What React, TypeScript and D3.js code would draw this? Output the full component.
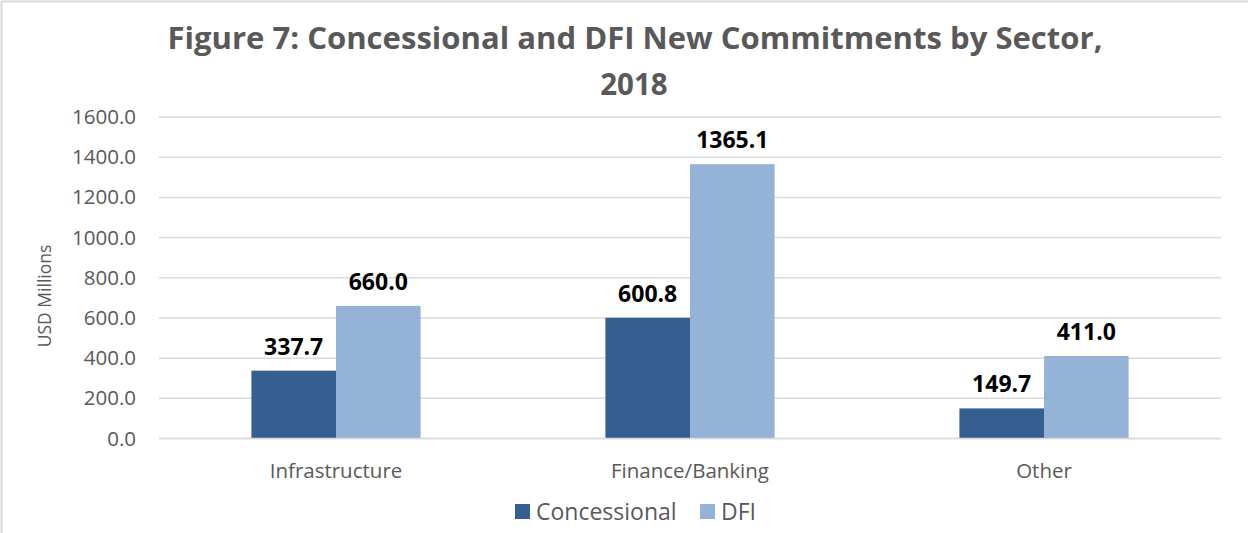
import React from "react";
import * as d3 from "d3";

const categories = ["Infrastructure", "Finance/Banking", "Other"];
const seriesNames = ["Concessional", "DFI"];
const concessional = [337.7, 600.8, 149.7];
const dfi = [660.0, 1365.1, 411.0];
const yTicks = [0, 200, 400, 600, 800, 1000, 1200, 1400, 1600];
const colors = ["#365F91", "#95B3D7"];

const W = 1248;
const H = 533;
const FONT = "'Open Sans', 'DejaVu Sans', sans-serif";

export default function App() {
  const left = 159, right = 1221, top = 117, bottom = 438.5;
  const x = d3.scaleBand<string>().domain(categories).range([left, right]).paddingInner(0).paddingOuter(0);
  const bw = 84.6;
  const y = d3.scaleLinear().domain([0, 1600]).range([bottom, top]);
  const series = [concessional, dfi];

  return (
    <div style={{ position: "absolute", left: 0, top: 0 }}>
      <svg width={W} height={H} style={{ display: "block", background: "#fff" }}>
        <rect x={1.5} y={1.5} width={W + 20} height={H + 20} fill="#fff" stroke="#d9d9d9" strokeWidth={2} />
        <text x={635} y={49} textAnchor="middle" fontFamily={FONT} fontWeight={700} fontSize={29.5} fill="#595959"
          textLength={935} lengthAdjust="spacingAndGlyphs">
          Figure 7: Concessional and DFI New Commitments by Sector,
        </text>
        <text x={634} y={95} textAnchor="middle" fontFamily={FONT} fontWeight={700} fontSize={29.5} fill="#595959">
          2018
        </text>
        {yTicks.map((t) => (
          <g key={t}>
            <line x1={left} x2={right} y1={y(t)} y2={y(t)} stroke="#d9d9d9" strokeWidth={1.5} />
            <text x={136} y={y(t) + 7} textAnchor="end" fontFamily={FONT} fontSize={20.5} fill="#595959">
              {t.toFixed(1)}
            </text>
          </g>
        ))}
        <text transform={`translate(51,296) rotate(-90)`} textAnchor="middle" fontFamily={FONT} fontSize={17.5} fill="#595959">
          USD Millions
        </text>
        {categories.map((c, i) => {
          const cx = (x(c) as number) + x.bandwidth() / 2;
          return (
            <g key={c}>
              {series.map((s, si) => {
                const bx = cx - bw + si * bw;
                return (
                  <g key={si}>
                    <rect x={bx} y={y(s[i])} width={bw} height={bottom - y(s[i])} fill={colors[si]} />
                    <text x={bx + bw / 2} y={y(s[i]) - 16} textAnchor="middle" fontFamily={FONT} fontWeight={700}
                      fontSize={23} fill="#000">
                      {s[i].toFixed(1)}
                    </text>
                  </g>
                );
              })}
              <text x={cx} y={478} textAnchor="middle" fontFamily={FONT} fontSize={20.5} fill="#595959">
                {c}
              </text>
            </g>
          );
        })}
        <line x1={left} x2={right} y1={bottom} y2={bottom} stroke="#d9d9d9" strokeWidth={1.5} />
        {seriesNames.map((n, i) => {
          const lx = [515, 700][i];
          return (
            <g key={n}>
              <rect x={lx} y={504} width={15} height={15} fill={colors[i]} />
              <text x={lx + 21} y={520} fontFamily={FONT} fontSize={23} fill="#595959">
                {n}
              </text>
            </g>
          );
        })}
      </svg>
    </div>
  );
}
